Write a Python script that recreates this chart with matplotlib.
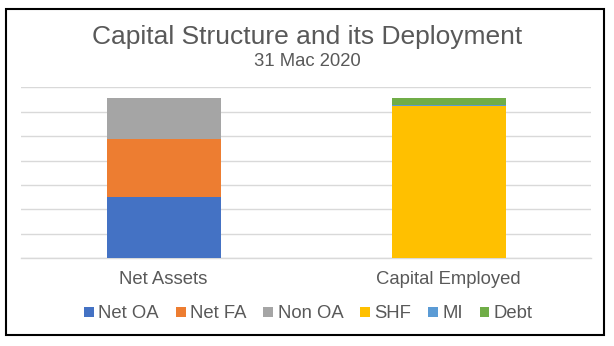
import matplotlib.pyplot as plt
from matplotlib.patches import Rectangle

plt.rcParams['font.family'] = ['Liberation Sans', 'DejaVu Sans']

# categories and stacked series
categories = ["Net Assets", "Capital Employed"]
net_oa = [2.50, 0.0]
net_fa = [2.37, 0.0]
non_oa = [1.69, 0.0]
shf = [0.0, 6.23]
mi = [0.0, 0.03]
debt = [0.0, 0.30]

series = [
    ("Net OA", net_oa, "#4472C4"),
    ("Net FA", net_fa, "#ED7D31"),
    ("Non OA", non_oa, "#A5A5A5"),
    ("SHF", shf, "#FFC000"),
    ("MI", mi, "#5B9BD5"),
    ("Debt", debt, "#70AD47"),
]

text_col = "#595959"
grid_col = "#D9D9D9"

fig = plt.figure(figsize=(6.14, 3.46), dpi=100)
ax = fig.add_axes([21 / 614, 1 - 258.3 / 346, 570 / 614, 171 / 346])

x = list(range(len(categories)))
bottom = [0.0] * len(categories)
handles = []
for name, vals, col in series:
    b = ax.bar(x, vals, width=0.4, bottom=bottom, color=col, label=name, zorder=3)
    handles.append(b)
    bottom = [bo + v for bo, v in zip(bottom, vals)]

ax.set_xlim(-0.5, 1.5)
ax.set_ylim(0, 7)
ax.set_yticks(range(0, 8))
ax.yaxis.grid(True, color=grid_col, linewidth=1.0, zorder=0)
ax.tick_params(axis='y', left=False, labelleft=False)
ax.tick_params(axis='x', length=0, pad=9, labelsize=13.3, labelcolor=text_col)
ax.set_xticks(x)
ax.set_xticklabels(categories)
for s in ["left", "right", "top"]:
    ax.spines[s].set_visible(False)
ax.spines["bottom"].set_color(grid_col)
ax.spines["bottom"].set_linewidth(1.0)

# titles
fig.text(307 / 614, 1 - 44 / 346, "Capital Structure and its Deployment",
         ha='center', va='baseline', fontsize=19, color=text_col)
fig.text(307 / 614, 1 - 66 / 346, "31 Mac 2020",
         ha='center', va='baseline', fontsize=13.3, color=text_col)

leg = fig.legend(handles=handles, loc='center', bbox_to_anchor=(308.5 / 614, 1 - 314 / 346),
                 ncol=6, frameon=False, fontsize=13.3, handlelength=0.53, handleheight=0.53,
                 handletextpad=0.25, columnspacing=0.9, borderpad=0, borderaxespad=0)
for t in leg.get_texts():
    t.set_color(text_col)

# outer frame
fig.patches.append(Rectangle((6 / 614, 1 - 335 / 346), 598 / 614, 326 / 346,
                             transform=fig.transFigure, fill=False,
                             edgecolor="black", linewidth=1.5))

fig.savefig("out.png", dpi=100)
